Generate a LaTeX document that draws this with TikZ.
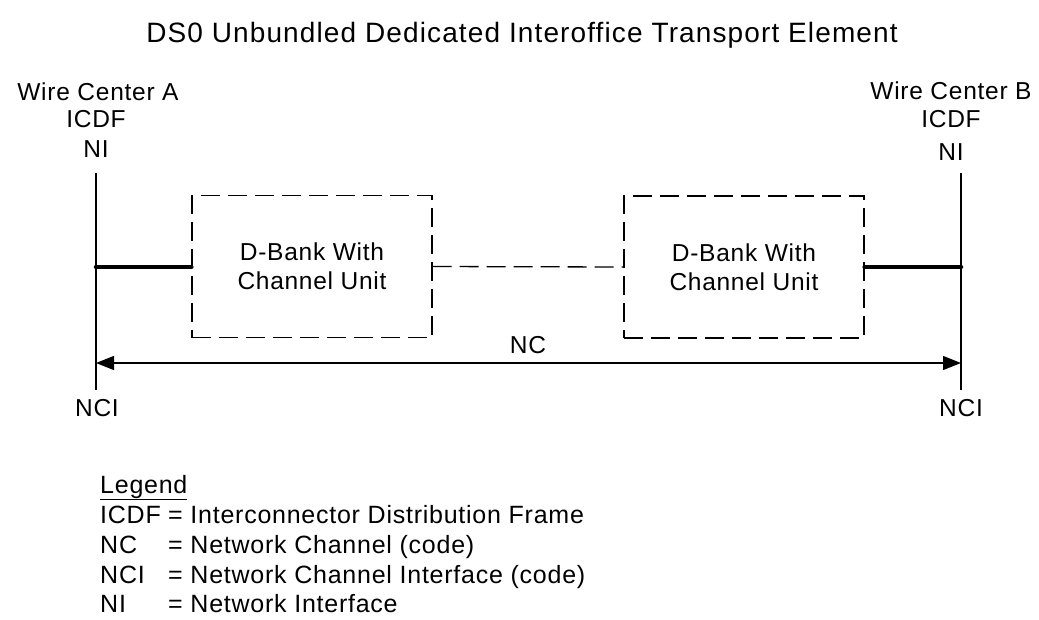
\documentclass[tikz,border=0pt]{standalone}
\usepackage{fontspec}
\setmainfont{Liberation Sans}
\newfontfamily\bodyfont{Liberation Sans}[LetterSpace=3]
\newfontfamily\titlefont{Liberation Sans}[LetterSpace=4]
\usetikzlibrary{arrows.meta}
\begin{document}
\begin{tikzpicture}[x=1pt,y=-1pt,
  lbl/.style={inner sep=0pt, anchor=base, font=\bodyfont\fontsize{24.5}{29}\selectfont},
  lgd/.style={inner sep=0pt, anchor=base west, font=\bodyfont\fontsize{25}{30}\selectfont},
  ttl/.style={inner sep=0pt, anchor=base, font=\titlefont\fontsize{28}{33}\selectfont},
  dbank/.style={draw, line width=1.3pt, dash pattern=on 19pt off 8pt, minimum width=240pt, minimum height=142pt, align=center, inner sep=0pt, font=\bodyfont\fontsize{24.5}{29}\selectfont},
  thin/.style={line width=1.3pt},
  thick5/.style={line width=4.5pt, line cap=round},
  dconn/.style={line width=1.3pt, dash pattern=on 19pt off 8pt},
  tri/.tip={Triangle[length=18pt,width=14pt]}
]
\useasboundingbox (0,0) rectangle (1039,619);

% title
\node[ttl] (title) at (522,42) {DS0 Unbundled Dedicated Interoffice Transport Element};

% top labels
\node[lbl] (wcA) at (98,100) {Wire Center A};
\node[lbl] (icdfA) at (96,127) {ICDF};
\node[lbl] (niA) at (96,157) {NI};
\node[lbl] (wcB) at (951,99) {Wire Center B};
\node[lbl] (icdfB) at (951,127) {ICDF};
\node[lbl] (niB) at (951,160) {NI};

% vertical lines
\coordinate (aTop) at (96,173);
\coordinate (aBot) at (96,390);
\coordinate (bTop) at (961,173);
\coordinate (bBot) at (961,390);
\draw[thin] (aTop) -- (aBot);
\draw[thin] (bTop) -- (bBot);

% D-bank boxes
\node[dbank] (bank1) at (312,266.5) {D-Bank With\\Channel Unit};
\node[dbank] (bank2) at (744,267) {D-Bank With\\Channel Unit};

% thick connections
\coordinate (aMid) at (96,267);
\coordinate (bMid) at (961,267);
\draw[thick5] (aMid) -- (bank1.west |- aMid);
\draw[thick5] (bank2.east |- bMid) -- (bMid);

% dashed link between banks
\draw[dconn] (bank1.east) -- (bank2.west);

% NC arrow
\coordinate (aArr) at (96,363);
\coordinate (bArr) at (961,363);
\draw[thin, {tri}-{tri}] (aArr) -- (bArr);
\node[lbl] (nc) at (528,353) {NC};

% NCI labels
\node[lbl] (nciA) at (97,416) {NCI};
\node[lbl] (nciB) at (961,416) {NCI};

% legend
\node[lgd] (legend) at (100,493) {\underline{Legend}};
\node[lgd] (l1a) at (100,523) {ICDF};
\node[lgd] (l1b) at (168,523) {= Interconnector Distribution Frame};
\node[lgd] (l2a) at (100,553) {NC};
\node[lgd] (l2b) at (168,553) {= Network Channel (code)};
\node[lgd] (l3a) at (100,583) {NCI};
\node[lgd] (l3b) at (168,583) {= Network Channel Interface (code)};
\node[lgd] (l4a) at (100,612) {NI};
\node[lgd] (l4b) at (168,612) {= Network Interface};
\end{tikzpicture}
\end{document}
